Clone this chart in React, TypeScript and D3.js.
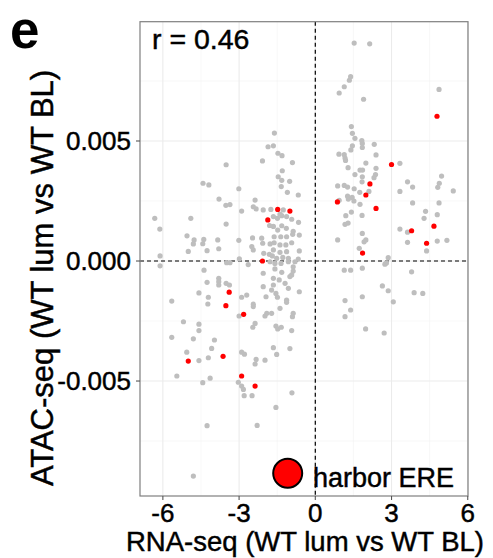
import React from "react";
import * as d3 from "d3";

// ---- data (RNA-seq log2FC, ATAC-seq delta) ----
const redPoints: [number, number][] = [
  [4.79, 0.00603], [3.0, 0.00402], [2.15, 0.00321], [1.99, 0.00275], [0.87, 0.00246],
  [2.39, 0.00219], [4.67, 0.00145], [3.79, 0.00126], [4.38, 0.00074], [1.86, 0.00033],
  [-1.48, 0.00215], [-1.0, 0.00208], [-1.87, 0.00171], [-2.08, 0.0], [-3.39, -0.0013],
  [-3.52, -0.00186], [-2.82, -0.00222], [-5.0, -0.00417], [-3.63, -0.00397], [-2.9, -0.00479],
  [-2.37, -0.00521],
];

const grayRight: [number, number][] = [
  [1.53, 0.00908], [2.14, 0.00905], [1.39, 0.00768], [1.34, 0.00753], [1.14, 0.00726], [0.94, 0.007],
  [1.9, 0.00674], [4.87, 0.00715], [1.42, 0.0056], [1.46, 0.00532], [1.56, 0.00511], [1.83, 0.00502],
  [1.85, 0.0049], [2.32, 0.00486], [1.46, 0.0048], [1.4, 0.00463], [1.85, 0.00473], [0.93, 0.00445],
  [1.14, 0.00443], [1.17, 0.00429], [1.19, 0.00419], [2.39, 0.00442], [1.99, 0.00408], [3.33, 0.00407],
  [1.29, 0.00389], [1.76, 0.00379], [1.86, 0.00379], [2.39, 0.00386], [1.56, 0.0036], [1.85, 0.00351],
  [2.37, 0.0036], [2.31, 0.00347], [1.84, 0.0033], [0.88, 0.00313], [1.14, 0.00315], [1.27, 0.00308],
  [1.53, 0.00301], [1.75, 0.00286], [2.11, 0.0029], [1.27, 0.0027], [1.3, 0.00258], [1.45, 0.00265],
  [1.52, 0.0025], [0.94, 0.00253], [1.76, 0.00236], [1.42, 0.00204], [1.2, 0.00189], [1.84, 0.0019],
  [1.29, 0.00158], [1.17, 0.00153], [1.85, 0.00115], [1.99, 0.00088], [1.92, 0.0008], [0.88, 0.00088],
  [1.73, 0.00053], [2.87, 0.00014], [4.97, 0.00354], [4.88, 0.00324], [4.82, 0.00307], [3.63, 0.0033],
  [3.83, 0.00308], [3.33, 0.0029], [5.43, 0.00292], [3.83, 0.00242], [4.87, 0.00242], [4.34, 0.00207],
  [4.8, 0.00193], [4.28, 0.00178], [3.33, 0.00133], [3.63, 0.0012], [3.63, 0.00078], [4.8, 0.00083],
  [5.18, 0.00086], [4.38, 0.00042], [2.74, -0.00013], [2.8, -0.00008], [1.14, -0.00038], [1.39, -0.00038],
  [1.85, -0.0003], [3.79, -0.00045], [2.64, -0.00104], [2.87, -0.00124], [1.85, -0.00149], [3.89, -0.00132],
  [4.23, -0.00135], [1.17, -0.00165], [3.07, -0.0017], [1.39, -0.00204], [1.17, -0.00232], [1.98, -0.00283],
  [2.71, -0.003],
];

const grayCenter: [number, number][] = [
  [-1.61, 0.00533], [-1.86, 0.00476], [-1.65, 0.0048], [-1.47, 0.00449], [-1.31, 0.00439], [-2.08, 0.00417],
  [-0.9, 0.0041], [-1.3, 0.00376], [-1.46, 0.00351], [-1.32, 0.00336], [-1.01, 0.00332], [-1.34, 0.0031],
  [-1.1, 0.00286], [-0.67, 0.00275], [-2.37, 0.00254], [-2.44, 0.00226], [-2.33, 0.00217], [-2.05, 0.00213],
  [-1.75, 0.00215], [-1.26, 0.00213], [-1.39, 0.00195], [-2.9, 0.00208], [-1.65, 0.00185], [-1.49, 0.00178],
  [-1.32, 0.00189], [-1.13, 0.00185], [-0.93, 0.00174], [-0.66, 0.00161], [-1.8, 0.00148], [-1.65, 0.00144],
  [-1.32, 0.00147], [-1.14, 0.00136], [-1.48, 0.00129], [-0.87, 0.00124], [-0.63, 0.00108], [-2.47, 0.00096],
  [-2.11, 0.00095], [-1.62, 0.00101], [-1.36, 0.00101], [-1.13, 0.00101], [-0.89, 0.00111], [-2.07, 0.00074],
  [-1.78, 0.00071], [-1.62, 0.00076], [-1.39, 0.00067], [-1.16, 0.00067], [-0.93, 0.00076], [-2.5, 0.0006],
  [-2.44, 0.00046], [-1.65, 0.00046], [-1.39, 0.00036], [-1.13, 0.00039], [-0.63, 0.00042], [-2.03, 0.00032],
  [-1.81, 0.00028], [-1.69, 0.00021], [-1.52, 0.00011], [-1.28, 0.00015], [-1.06, 0.00011], [-0.67, 0.00008],
  [-1.78, -0.00003], [-1.59, -0.0001], [-1.35, -0.0001], [-1.06, -0.00003], [-0.8, -0.00003], [-2.05, -0.00051],
  [-1.59, -0.00033], [-1.32, -0.00047], [-0.87, -0.00024], [-0.87, -0.00042], [-0.93, -0.00058], [-1.0, -0.00065],
  [-1.65, -0.00072], [-1.42, -0.00079], [-1.19, -0.00093], [-2.05, -0.00107], [-1.65, -0.001], [-1.72, -0.00121],
  [-0.63, -0.00128], [-1.94, -0.00149], [-1.55, -0.00135], [-1.49, -0.00151], [-1.13, -0.00163], [-1.13, -0.00172],
  [-2.7, -0.00142], [-2.9, -0.00151], [-2.44, -0.0018], [-2.44, -0.0019], [-1.91, -0.00218], [-1.72, -0.00218],
  [-0.87, -0.00218], [-1.39, -0.00197], [-1.98, -0.00229], [-0.9, -0.00232], [-1.55, -0.00271], [-1.48, -0.00283],
  [-1.34, -0.00276], [-0.93, -0.0029], [-1.65, -0.00361], [-1.0, -0.00365], [-1.52, -0.00389], [-1.98, -0.00413],
  [-0.92, -0.00549], [-1.55, -0.0061], [-2.29, -0.00685], [-1.06, -0.00114],
];

const grayLeft: [number, number][] = [
  [-3.51, 0.00401], [-4.42, 0.00324], [-4.19, 0.00317], [-3.01, 0.00301], [-3.79, 0.00258], [-3.52, 0.00232],
  [-3.36, 0.00235], [-6.32, 0.00178], [-4.9, 0.00178], [-3.51, 0.00154], [-6.12, 0.00133], [-5.05, 0.00105],
  [-4.77, 0.00088], [-4.8, 0.00071], [-4.39, 0.0009], [-4.43, 0.00072], [-3.84, 0.00088], [-3.01, 0.00086],
  [-5.0, 0.0004], [-4.26, 0.00043], [-3.8, 0.00051], [-6.11, 0.00021], [-2.99, 0.00009], [-6.11, -0.0002],
  [-4.38, -0.00038], [-4.26, -0.00089], [-3.8, -0.00072], [-3.8, -0.00086], [-3.8, -0.001], [-3.51, -0.00093],
  [-3.38, -0.001], [-3.49, -0.00007], [-3.36, -0.00007], [-2.64, -0.00015], [-4.58, -0.00133], [-5.65, -0.00167],
  [-4.21, -0.00151], [-4.23, -0.00179], [-3.0, -0.00229], [-5.19, -0.00253], [-4.58, -0.00263], [-4.58, -0.0029],
  [-2.37, -0.0026], [-2.46, -0.00276], [-5.65, -0.00318], [-4.8, -0.00324], [-3.97, -0.00329], [-4.08, -0.00364],
  [-5.06, -0.0038], [-4.58, -0.00415], [-4.21, -0.00403], [-2.9, -0.0038], [-2.79, -0.00388], [-2.33, -0.0041],
  [-2.37, -0.00429], [-5.45, -0.00479], [-4.14, -0.00488], [-4.43, -0.00507], [-3.03, -0.00505], [-2.9, -0.00521],
  [-2.83, -0.00535], [-2.8, -0.00561], [-2.49, -0.00561], [-4.26, -0.00686], [-4.8, -0.00896],
];

const xTicks = [-6, -3, 0, 3, 6];
const xMinor = [-4.5, -1.5, 1.5, 4.5];
const yTicks = [-0.005, 0, 0.005];
const yMinor = [-0.0075, -0.0025, 0.0025, 0.0075];
const yTickLabels = ["-0.005", "0.000", "0.005"];
const xTitle = "RNA-seq (WT lum vs WT BL)";
const yTitle = "ATAC-seq (WT lum vs WT BL)";
const corrLabel = "r = 0.46";
const legendLabel = "harbor ERE";
const panelLabel = "e";

const W = 493;
const H = 558;
const FONT = "'Liberation Sans', Arial, Helvetica, sans-serif";
const thick = { stroke: "#000", strokeWidth: 0.45, paintOrder: "stroke" } as const;

export default function App() {
  const left = 140, right = 468, top = 21.7, bottom = 496;
  const x = d3.scaleLinear().domain([-6.9, 6.01]).range([left, right]);
  const y = d3.scaleLinear().domain([-0.00979, 0.00997]).range([bottom, top]);
  const gray = [...grayRight, ...grayCenter, ...grayLeft];
  return (
    <svg width={W} height={H} style={{ display: "block", position: "absolute", left: 0, top: 0 }}>
      <rect x={0} y={0} width={W} height={H} fill="#fff" />
      <defs>
        <clipPath id="panel">
          <rect x={left} y={top} width={right - left} height={bottom - top} />
        </clipPath>
      </defs>
      {/* grid */}
      {xMinor.map((v) => (
        <line key={"xm" + v} x1={x(v)} x2={x(v)} y1={top} y2={bottom} stroke="#f3f3f3" strokeWidth={0.6} />
      ))}
      {yMinor.map((v) => (
        <line key={"ym" + v} x1={left} x2={right} y1={y(v)} y2={y(v)} stroke="#f3f3f3" strokeWidth={0.6} />
      ))}
      {xTicks.map((v) => (
        <line key={"xg" + v} x1={x(v)} x2={x(v)} y1={top} y2={bottom} stroke="#ebebeb" strokeWidth={1.1} />
      ))}
      {yTicks.map((v) => (
        <line key={"yg" + v} x1={left} x2={right} y1={y(v)} y2={y(v)} stroke="#ebebeb" strokeWidth={1.1} />
      ))}
      {/* dashed zero lines */}
      <line x1={x(0)} x2={x(0)} y1={top} y2={bottom} stroke="#000" strokeWidth={1.2} strokeDasharray="4,3" />
      <line x1={left} x2={right} y1={y(0)} y2={y(0)} stroke="#000" strokeWidth={1.2} strokeDasharray="4,3" />
      {/* points */}
      <g clipPath="url(#panel)">
        {gray.map((p, i) => (
          <circle key={"g" + i} cx={x(p[0])} cy={y(p[1])} r={2.6} fill="#bebebe" />
        ))}
        {redPoints.map((p, i) => (
          <circle key={"r" + i} cx={x(p[0])} cy={y(p[1])} r={2.6} fill="#ff0000" />
        ))}
      </g>
      {/* panel border */}
      <rect x={left} y={top} width={right - left} height={bottom - top} fill="none" stroke="#7f7f7f" strokeWidth={1.2} />
      {/* ticks */}
      {xTicks.map((v) => (
        <line key={"xt" + v} x1={x(v)} x2={x(v)} y1={bottom} y2={bottom + 4} stroke="#555" strokeWidth={1.1} />
      ))}
      {yTicks.map((v) => (
        <line key={"yt" + v} x1={left - 4} x2={left} y1={y(v)} y2={y(v)} stroke="#555" strokeWidth={1.1} />
      ))}
      {xTicks.map((v) => (
        <text key={"xl" + v} x={x(v)} y={522} textAnchor="middle" fontFamily={FONT} fontSize={26} fill="#000" {...thick}>
          {v}
        </text>
      ))}
      {yTicks.map((v, i) => (
        <text key={"yl" + v} x={131} y={y(v)} dy="0.36em" textAnchor="end" fontFamily={FONT} fontSize={26} fill="#000" {...thick}>
          {yTickLabels[i]}
        </text>
      ))}
      {/* titles */}
      <text x={305} y={551} textAnchor="middle" fontFamily={FONT} fontSize={27.5} fill="#000" {...thick}>
        {xTitle}
      </text>
      <text
        transform={`translate(53,278) rotate(-90)`}
        textAnchor="middle"
        fontFamily={FONT}
        fontSize={31}
        fill="#000"
        {...thick}
      >
        {yTitle}
      </text>
      <text x={152} y={49} fontFamily={FONT} fontSize={28.5} fill="#000" {...thick}>
        {corrLabel}
      </text>
      <text x={10} y={47.5} fontFamily={FONT} fontSize={53} fontWeight="bold" fill="#000">
        {panelLabel}
      </text>
      {/* legend */}
      <circle cx={287.7} cy={473.3} r={14.5} fill="#ff0000" stroke="#000" strokeWidth={2} />
      <text x={313} y={486.5} fontFamily={FONT} fontSize={27} fill="#000" {...thick}>
        {legendLabel}
      </text>
    </svg>
  );
}
